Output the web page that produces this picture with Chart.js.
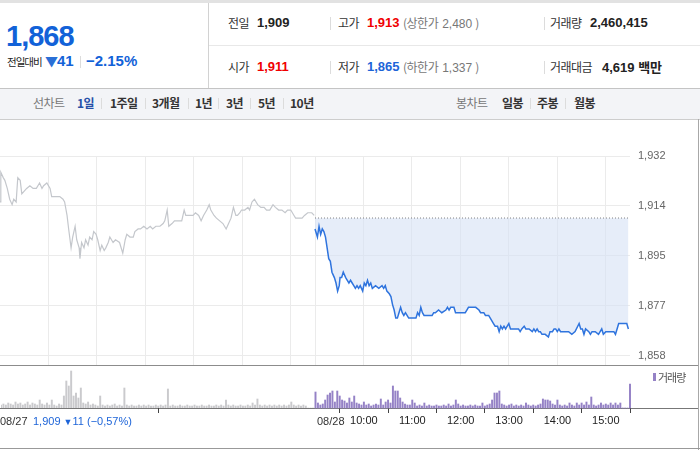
<!DOCTYPE html>
<html><head><meta charset="utf-8">
<script src="https://cdn.jsdelivr.net/npm/chart.js@4.4.1/dist/chart.umd.min.js"></script>
<style>
html,body{margin:0;padding:0}
body{width:700px;height:450px;overflow:hidden;background:#fff;position:relative;font-family:"Noto Sans CJK KR","Liberation Sans",sans-serif;color:#333}
.t{position:absolute;white-space:nowrap;line-height:20px;height:20px;letter-spacing:-0.5px}
.n{font-family:"Liberation Sans",Arial,sans-serif;font-weight:bold;letter-spacing:0}
.sep{position:absolute;width:1px;background:#dcdcdc}
.ln{position:absolute;height:1px}
canvas{position:absolute;left:0}
.num{font-family:'Liberation Sans';letter-spacing:0;margin-left:4px;margin-right:3px}
</style></head>
<body>
<!-- top strip -->
<div class="ln" style="top:0;left:0;width:700px;height:3px;background:#e2e2e2"></div>
<!-- left summary -->
<div class="t n" style="left:6px;top:20px;height:32px;line-height:32px;font-size:29px;color:#1262d8;letter-spacing:-1px">1,868</div>
<div class="t" style="left:7px;top:52px;font-size:10.5px;color:#222;letter-spacing:-1px">전일대비</div>
<div class="t" style="left:45px;top:51px;font-size:13px;color:#2a6fd6">▼</div>
<div class="t n" style="left:57px;top:51px;font-size:15px;color:#1262d8">41</div>
<div class="sep" style="left:80px;top:56px;height:12px"></div>
<div class="t n" style="left:86px;top:51px;font-size:15px;color:#1262d8">−2.15%</div>
<div class="sep" style="left:208px;top:3px;height:85px;background:#d2d2d2"></div>
<div class="ln" style="left:209px;top:45px;width:491px;background:#e8e8e8"></div>
<!-- row 1 -->
<div class="t" style="left:228px;top:13px;font-size:12px;color:#333">전일</div>
<div class="t n" style="left:257px;top:13px;font-size:13px;color:#222">1,909</div>
<div class="sep" style="left:330px;top:17px;height:13px"></div>
<div class="t" style="left:338px;top:13px;font-size:12px;color:#333">고가</div>
<div class="t n" style="left:367px;top:13px;font-size:13px;color:#f00000">1,913</div>
<div class="t" style="left:403px;top:13px;font-size:12px;color:#777">(상한가<span class="num">2,480</span>)</div>
<div class="sep" style="left:544px;top:17px;height:13px"></div>
<div class="t" style="left:550px;top:13px;font-size:12px;color:#333">거래량</div>
<div class="t n" style="left:590px;top:13px;font-size:13px;color:#222">2,460,415</div>
<!-- row 2 -->
<div class="t" style="left:228px;top:57px;font-size:12px;color:#333">시가</div>
<div class="t n" style="left:257px;top:57px;font-size:13px;color:#f00000">1,911</div>
<div class="sep" style="left:330px;top:61px;height:13px"></div>
<div class="t" style="left:338px;top:57px;font-size:12px;color:#333">저가</div>
<div class="t n" style="left:367px;top:57px;font-size:13px;color:#1d64d8">1,865</div>
<div class="t" style="left:403px;top:57px;font-size:12px;color:#777">(하한가<span class="num">1,337</span>)</div>
<div class="sep" style="left:544px;top:61px;height:13px"></div>
<div class="t" style="left:550px;top:57px;font-size:12px;color:#333">거래대금</div>
<div class="t n" style="left:602px;top:57px;font-size:13px;color:#222">4,619 <span style="font-family:'Noto Sans CJK KR';">백만</span></div>
<!-- toolbar -->
<div style="position:absolute;left:0;top:88px;width:700px;height:30px;background:#f3f4f7;border-top:1px solid #c4c4c4;border-bottom:1px solid #cdcdcd"></div>
<div class="t" style="left:33px;top:93px;font-size:12px;color:#777">선차트</div>
<div class="t" style="left:77px;top:93px;font-size:12px;color:#2750a8;font-weight:bold">1일</div>
<div class="sep" style="left:101px;top:98px;height:11px"></div>
<div class="t" style="left:110px;top:93px;font-size:12px;color:#333;font-weight:bold">1주일</div>
<div class="sep" style="left:145px;top:98px;height:11px"></div>
<div class="t" style="left:152px;top:93px;font-size:12px;color:#333;font-weight:bold">3개월</div>
<div class="sep" style="left:188px;top:98px;height:11px"></div>
<div class="t" style="left:195px;top:93px;font-size:12px;color:#333;font-weight:bold">1년</div>
<div class="sep" style="left:218px;top:98px;height:11px"></div>
<div class="t" style="left:226px;top:93px;font-size:12px;color:#333;font-weight:bold">3년</div>
<div class="sep" style="left:250px;top:98px;height:11px"></div>
<div class="t" style="left:258px;top:93px;font-size:12px;color:#333;font-weight:bold">5년</div>
<div class="sep" style="left:283px;top:98px;height:11px"></div>
<div class="t" style="left:290px;top:93px;font-size:12px;color:#333;font-weight:bold">10년</div>
<div class="t" style="left:456px;top:93px;font-size:12px;color:#777">봉차트</div>
<div class="t" style="left:502px;top:93px;font-size:12px;color:#333;font-weight:bold">일봉</div>
<div class="sep" style="left:530px;top:98px;height:11px"></div>
<div class="t" style="left:537px;top:93px;font-size:12px;color:#333;font-weight:bold">주봉</div>
<div class="sep" style="left:565px;top:98px;height:11px"></div>
<div class="t" style="left:574px;top:93px;font-size:12px;color:#333;font-weight:bold">월봉</div>
<!-- chart frame lines -->
<div style="position:absolute;left:698px;top:119px;width:1px;height:331px;background:#a8a8a8"></div>
<div class="ln" style="left:0;top:365px;width:698px;background:#8c8c8c"></div>
<div class="ln" style="left:0;top:408px;width:698px;background:#777"></div>
<div class="ln" style="left:0;top:448px;width:700px;background:#999"></div>

<canvas id="cv" width="700" height="84" style="top:365px"></canvas>
<canvas id="cp" width="700" height="259" style="top:121px"></canvas>

<!-- x-axis date labels and legend -->
<div class="t" style="left:0px;top:411px;font-size:11px;font-family:'Liberation Sans';color:#333;letter-spacing:0">08/27</div>
<div class="t" style="left:33px;top:411px;font-size:11px;font-family:'Liberation Sans';color:#1d64d8;letter-spacing:0">1,909 <span style="font-size:9px">▼</span>11 (−0,57%)</div>
<div class="t" style="left:317px;top:411px;font-size:11px;font-family:'Liberation Sans';color:#333;letter-spacing:0">08/28</div>
<div style="position:absolute;left:653px;top:373px;width:3px;height:8px;background:#9582c6"></div>
<div class="t" style="left:658px;top:367px;font-size:11px;color:#555;letter-spacing:-1px">거래량</div>

<script>
// ---------- DATA ----------
// x values are minutes from 08/27 09:00 (08/28 09:00 = 390)
const day1Time = [0,1,4,6,9,12,15,17,20,22,25,27,30,33,37,41,45,49,52,54,58,62,64,74,78,80,83,85,88,90,93,95,98,99,101,104,106,109,111,114,116,119,121,124,126,129,131,134,136,140,143,148,152,155,157,161,165,167,171,174,178,182,186,189,193,198,202,204,207,209,213,216,220,225,228,230,235,239,242,246,249,252,256,259,261,265,268,272,276,280,283,286,289,292,294,297,299,303,307,309,312,315,319,323,327,330,334,338,341,345,349,353,356,360,364,366,370,374,377,381,386,389];
const day1Price = [1915,1926,1924,1923,1920,1916,1914,1916,1915,1924,1923,1918,1919,1920,1921,1920,1920,1922,1920,1921,1922,1920,1917,1917,1916,1915,1910,1905,1898,1902,1906,1901,1898,1894,1900,1898,1901,1899,1902,1901,1904,1903,1901,1897,1899,1897,1898,1900,1902,1900,1901,1900,1896,1901,1903,1902,1902,1904,1905,1905,1906,1905,1906,1905,1906,1906,1907,1908,1912,1906,1907,1908,1908,1908,1912,1910,1910,1910,1911,1910,1908,1910,1912,1914,1912,1910,1909,1908,1907,1905,1907,1909,1913,1910,1910,1911,1912,1912,1913,1912,1915,1916,1914,1913,1913,1912,1912,1914,1913,1912,1912,1911,1912,1912,1910,1909,1909,1909,1910,1911,1911,1910];
// minutes after 08/28 09:00
const day2Time = [0,3,5,7,9,11,13,15,17,19,21,24,26,28,30,31,33,35,38,40,42,44,46,48,50,52,54,56,59,61,63,65,67,69,71,75,79,83,85,87,89,92,94,96,98,100,102,104,106,108,110,112,114,116,118,120,122,125,127,129,131,133,135,137,141,145,147,149,153,157,162,164,166,168,170,172,174,176,178,182,186,188,190,195,199,203,205,207,209,211,213,215,217,219,221,223,226,228,230,232,234,236,238,240,242,244,248,252,254,256,259,261,265,269,271,273,275,277,279,281,285,289,291,294,296,298,300,302,304,306,310,314,318,322,327,329,331,333,335,339,341,343,347,351,355,357,360,364,366,370,372,374,376,380,386,388];
const day2Price = [1905,1902,1906,1903,1905,1904,1902,1898,1894,1893,1889,1887,1885,1882,1884,1887,1887,1889,1887,1886,1885,1886,1885,1884,1883,1884,1883,1884,1882,1885,1884,1886,1884,1885,1883,1884,1883,1884,1883,1884,1882,1881,1880,1877,1875,1872,1872,1874,1876,1874,1873,1874,1873,1872,1872,1872,1872,1872,1874,1873,1876,1874,1873,1873,1873,1873,1874,1874,1875,1874,1875,1876,1875,1876,1876,1876,1874,1874,1874,1874,1874,1875,1876,1876,1876,1875,1874,1874,1874,1873,1873,1873,1872,1871,1870,1869,1869,1867,1869,1868,1869,1868,1869,1870,1868,1868,1868,1868,1867,1868,1869,1868,1868,1867,1868,1867,1868,1867,1867,1866,1866,1865,1867,1867,1868,1868,1867,1868,1867,1867,1867,1867,1866,1867,1870,1868,1868,1866,1868,1867,1866,1867,1867,1866,1868,1866,1867,1867,1867,1867,1866,1868,1870,1870,1870,1868];
const prevClose = 1909;
const yTickValues = [1858, 1876.5, 1895, 1913.5, 1932];
const yTickLabels = ["1,858", "1,877", "1,895", "1,914", "1,932"];
const hourMinutes = [60,120,180,240,300,360,390,450,510,570,630,690,750];
const xTickMinutes = [0,390,450,510,570,630,690,750];
const xTickLabels = ["", "", "10:00", "11:00", "12:00", "13:00", "14:00", "15:00"];
// volume, thousand shares, one bar per 3-minute slot from 09:00
const volStep = 3;
const day1Vol = [12,16,12,20,16,12,24,16,20,12,16,24,12,20,16,12,32,16,12,20,12,32,12,8,16,12,48,108,88,148,48,60,40,80,20,16,24,12,16,12,8,48,12,8,12,8,12,16,8,12,8,80,12,8,12,8,8,12,8,12,8,12,8,8,12,8,12,8,12,76,8,12,8,8,12,8,8,12,8,8,12,8,8,12,8,8,12,8,8,12,8,12,8,32,12,8,12,8,8,12,8,8,12,8,20,12,36,12,8,12,8,12,8,12,8,12,8,12,8,12,24,12,8,12,8,12,8,0,0,0];
const day2Vol = [64,20,12,16,32,52,60,68,24,68,48,32,28,20,40,24,48,20,16,12,24,12,16,8,12,16,12,36,12,24,32,20,88,68,68,40,24,16,12,12,32,20,8,12,8,20,8,12,8,8,12,8,8,12,8,16,8,12,32,16,8,12,8,8,12,8,12,8,8,20,8,12,16,32,60,60,68,16,12,8,12,16,8,12,8,12,8,20,12,8,12,8,12,16,36,32,32,28,16,12,32,12,8,12,8,20,12,8,20,12,20,12,24,12,44,12,8,12,20,12,16,12,20,12,20,12,20,0,0,0,96];
const day2Start = 390;

// ---------- CHARTS ----------
const gridCol = '#ebebeb';
new Chart(document.getElementById('cp'), {
  type: 'line',
  data: { datasets: [
    { data: day1Time.map((t,i)=>({x:t, y:day1Price[i]})), borderColor:'#c4c7cc', borderWidth:1.2, pointRadius:0, fill:false, tension:0 },
    { data: day2Time.map((t,i)=>({x:day2Start+t, y:day2Price[i]})), borderColor:'#2f74de', borderWidth:1.5, pointRadius:0, tension:0,
      fill:{value:prevClose}, backgroundColor:'rgba(214,226,246,0.62)' },
    { data: [{x:day2Start, y:prevClose},{x:780, y:prevClose}], borderColor:'#555', borderWidth:1, borderDash:[1,2], pointRadius:0, fill:false }
  ]},
  options: {
    responsive:false, animation:false, maintainAspectRatio:false,
    layout:{padding:{top:35, left:0, right:0, bottom:0}},
    plugins:{legend:{display:false}, tooltip:{enabled:false}},
    scales:{
      x:{ type:'linear', min:0, max:780,
          afterBuildTicks: s => { s.ticks = hourMinutes.map(v=>({value:v})); },
          ticks:{display:false}, grid:{color:gridCol, drawTicks:false}, border:{display:false},
          afterFit: s => { s.height = 0; } },
      y:{ position:'right', min:1854.5, max:1932,
          afterBuildTicks: s => { s.ticks = yTickValues.map(v=>({value:v})); },
          ticks:{ callback:(v)=> yTickLabels[yTickValues.indexOf(v)], color:'#666', padding:8,
                  font:{family:'Liberation Sans', size:11} },
          grid:{color:gridCol, drawTicks:false}, border:{display:false},
          afterFit: s => { s.width = 70; } }
    }
  }
});

new Chart(document.getElementById('cv'), {
  type: 'bar',
  data: { datasets: [
    { data: day1Vol.map((v,i)=>({x:i*volStep, y:v})), backgroundColor:'#cacacd', barThickness:1.3, grouped:false },
    { data: day2Vol.map((v,i)=>({x:day2Start+i*volStep, y:v})), backgroundColor:'#9582c6', barThickness:1.3, grouped:false, clip:false }
  ]},
  options: {
    responsive:false, animation:false, maintainAspectRatio:false,
    layout:{padding:{top:0, left:0, right:0, bottom:0}},
    plugins:{legend:{display:false}, tooltip:{enabled:false}},
    scales:{
      x:{ type:'linear', min:0, max:780, offset:false,
          afterBuildTicks: s => { s.ticks = xTickMinutes.map(v=>({value:v})); },
          ticks:{ callback:(v)=> xTickLabels[xTickMinutes.indexOf(v)], color:'#222', padding:1, maxRotation:0, autoSkip:false,
                  font:{family:'Liberation Sans', size:11} },
          grid:{ drawOnChartArea:false, drawTicks:true, tickLength:5, tickColor:'#444' },
          border:{display:false},
          afterFit: s => { s.height = 41; } },
      y:{ position:'right', min:0, max:172, display:true,
          ticks:{display:false}, grid:{display:false, drawTicks:false}, border:{display:false},
          afterFit: s => { s.width = 70; } }
    }
  }
});
</script>
</body></html>
